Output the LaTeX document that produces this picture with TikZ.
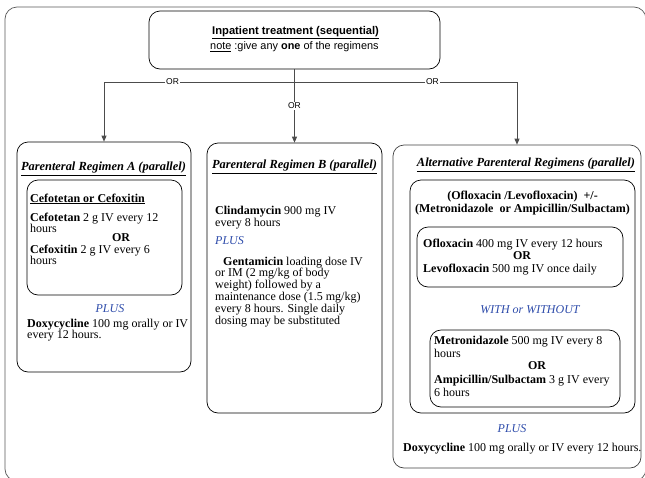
\documentclass[tikz,border=0pt]{standalone}
\usepackage{fontspec}
\setmainfont{Liberation Serif}
\setsansfont{Liberation Sans}
\usetikzlibrary{arrows.meta,positioning}
\definecolor{plusblue}{RGB}{45,75,170}

\begin{document}
\begin{tikzpicture}[x=1pt,y=-1pt,>={Triangle[length=6pt,width=5pt]},
    box/.style={draw, rounded corners=11pt, line width=0.7pt, inner sep=0pt},
    txt/.style={inner sep=0pt, anchor=north west, align=left, font=\fontsize{12}{11}\selectfont},
    bold/.style={inner sep=0pt, font=\fontsize{12}{12}\selectfont\bfseries},
    heading/.style={inner sep=0pt, font=\fontsize{12.4}{12}\selectfont\bfseries\itshape},
    plus/.style={inner sep=0pt, text=plusblue, font=\fontsize{12}{12}\selectfont\itshape},
    orlabel/.style={fill=white, inner sep=1pt, font=\sffamily\fontsize{8.5}{9}\selectfont},
    link/.style={draw=black!70, line width=0.7pt}]

    \useasboundingbox (0,0) rectangle (645,477);
    \draw[black!65, line width=0.7pt, rounded corners=12pt] (5,7) rectangle (646,481);

    % top box
    \node[box, minimum width=291, minimum height=58] (inpatient) at (294.5,40) {};
    \node[inner sep=0pt, anchor=north west, font=\sffamily\bfseries\fontsize{11.2}{12}\selectfont] (toptitle) at (212,26.5) {\underline{Inpatient treatment (sequential)}};
    \node[inner sep=0pt, anchor=north west, font=\sffamily\fontsize{10.9}{12}\selectfont] (topnote) at (210,41.5) {\underline{note} :give any \textbf{one} of the regimens};

    % regimen boxes
    \node[box, minimum width=174, minimum height=230] (regA) at (104,257) {};
    \node[box, minimum width=175, minimum height=270] (regB) at (294.5,278) {};
    \node[box, draw=black!75, minimum width=248, minimum height=323] (regC) at (517,306.5) {};

    % connectors
    \coordinate (bus) at (294.5,82);
    \draw[link] (inpatient.south) -- (bus);
    \draw[link, ->] (bus) -| node[orlabel, pos=0.32]{OR} (regA.north);
    \draw[link, ->] (bus) -| node[orlabel, pos=0.31]{OR} (regC.north);
    \draw[link, ->] (inpatient.south) -- node[orlabel]{OR} (regB.north);

    % regimen A
    \node[heading] (titleA) at (103.5,169) {\underline{Parenteral Regimen A (parallel)}};
    \node[box, minimum width=155, minimum height=115] (cefbox) at (104.5,237.5) {};
    \node[txt, font=\fontsize{12}{11}\selectfont\bfseries] (cefhead) at (30,193.5) {\underline{Cefotetan or Cefoxitin}};
    \node[txt] (cefotetan) at (30,213) {\textbf{Cefotetan} 2 g IV every 12\\hours};
    \node[bold] (orA) at (121,238) {OR};
    \node[txt] (cefoxitin) at (30,245) {\textbf{Cefoxitin} 2 g IV every 6\\hours};
    \node[plus] (plusA) at (110,309) {PLUS};
    \node[txt] (doxyA) at (27,318.5) {\textbf{Doxycycline} 100 mg orally or IV\\every 12 hours.};

    % regimen B
    \node[heading] (titleB) at (294.5,167) {\underline{Parenteral Regimen B (parallel)}};
    \node[txt, font=\fontsize{12}{12}\selectfont] (clinda) at (215,205.5) {\textbf{Clindamycin} 900 mg IV\\every 8 hours};
    \node[plus, anchor=north west] (plusB) at (215,236) {PLUS};
    \node[txt, font=\fontsize{12}{11.8}\selectfont] (genta) at (215,256.5) {\hspace*{8pt}\textbf{Gentamicin} loading dose IV\\or IM (2 mg/kg of body\\weight) followed by a\\maintenance dose (1.5 mg/kg)\\every 8 hours. Single daily\\dosing may be substituted};

    % alternative regimens
    \node[heading] (titleC) at (526,165) {\underline{Alternative Parenteral Regimens (parallel)}};
    \node[box, minimum width=225, minimum height=233] (combobox) at (522.5,296.5) {};
    \node[bold, align=center, font=\fontsize{12}{13}\selectfont\bfseries] (combo) at (522.5,203.5) {(Ofloxacin /Levofloxacin)~ +/-\\(Metronidazole~ or Ampicillin/Sulbactam)};
    \node[box, minimum width=206, minimum height=60] (floxbox) at (520,257) {};
    \node[txt] (oflox) at (423,238.5) {\textbf{Ofloxacin} 400 mg IV every 12 hours};
    \node[bold] (orC1) at (522,256) {OR};
    \node[txt] (levo) at (423,263.5) {\textbf{Levofloxacin} 500 mg IV once daily};
    \node[plus] (withwithout) at (530,310) {WITH or WITHOUT};
    \node[box, minimum width=190, minimum height=77] (metrobox) at (525,368.5) {};
    \node[txt, font=\fontsize{12}{13}\selectfont] (metro) at (434,335.5) {\textbf{Metronidazole} 500 mg IV every 8\\hours};
    \node[bold] (orC2) at (537,366) {OR};
    \node[txt, font=\fontsize{12}{13}\selectfont] (ampi) at (434,374.5) {\textbf{Ampicillin/Sulbactam} 3 g IV every\\6 hours};
    \node[plus] (plusC) at (512,429) {PLUS};
    \node[txt] (doxyC) at (403,442.5) {\textbf{Doxycycline} 100 mg orally or IV every 12 hours.};

\end{tikzpicture}
\end{document}
